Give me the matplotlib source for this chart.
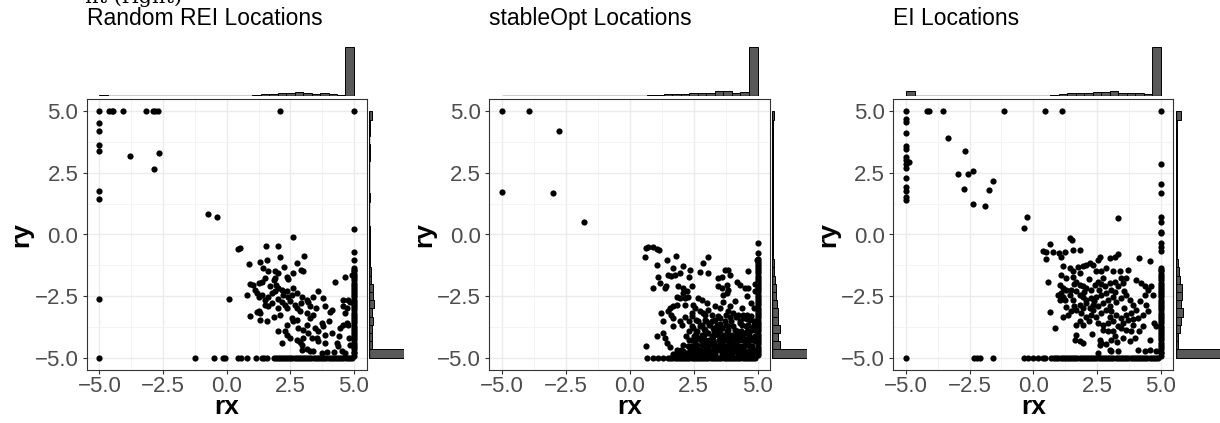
import numpy as np
import matplotlib
matplotlib.use("Agg")
import matplotlib.pyplot as plt

plt.rcParams['font.family'] = ['Liberation Sans', 'DejaVu Sans']

titles = ["Random REI Locations", "stableOpt Locations", "EI Locations"]
tick_vals = [-5, -2.5, 0, 2.5, 5]
tick_labels = ["\u22125.0", "\u22122.5", "0.0", "2.5", "5.0"]

# ---- Random REI: scattered points (rx, ry) ----
rei_pts = [
    (-5, 5), (-5, 4.53), (-5, 4.19), (-5, 3.62), (-5, 3.38), (-5, 1.75), (-5, 1.44), (-5, -2.63), (-5, -5),
    (-4.64, 5), (-4.5, 5), (-4.45, 5), (-4.09, 5), (-3.17, 5), (-2.91, 5), (-2.8, 5), (-2.71, 5), (2.1, 5), (5, 5),
    (-3.81, 3.18), (-2.65, 3.29), (-2.84, 2.65), (-0.74, 0.82), (-0.37, 0.7),
    (-1.26, -5), (-0.48, -5), (-0.16, -5), (-0.06, -5), (0.46, -5), (0.55, -5), (0.8, -5), (1.15, -5),
    (1.39, -5), (1.47, -5), (1.58, -5), (0.09, -2.61),
    (5, 0.22), (2.62, -0.11), (0.46, -0.59), (0.53, -0.53), (1.56, -0.46), (2.03, -0.45), (2.10, -0.90),
    (3.04, -0.86), (5, -0.70), (5, -1.03), (0.86, -1.21), (1.31, -1.13), (1.57, -1.03), (1.44, -1.37),
    (1.64, -1.50), (2.27, -1.33), (1.90, -1.50), (2.03, -1.57), (2.75, -1.17), (2.92, -1.44), (3.01, -1.50),
    (2.62, -1.57), (2.36, -1.71), (2.42, -1.80), (1.90, -1.75), (1.84, -1.84), (1.51, -1.77), (1.38, -1.91),
    (1.25, -1.98), (0.92, -2.02), (1.05, -2.04), (1.12, -2.25), (0.79, -2.45), (1.18, -2.38), (1.25, -2.52),
    (1.38, -2.45), (1.51, -2.65), (1.64, -2.52), (1.77, -2.38), (1.90, -2.31), (2.03, -2.18), (2.16, -2.25),
    (2.23, -2.45), (2.36, -2.31), (2.42, -2.52), (2.62, -2.18), (2.75, -2.38), (2.95, -2.52), (3.14, -2.65),
    (2.03, -2.61), (2.16, -2.72), (2.29, -2.85), (2.36, -2.99), (1.77, -2.79), (1.64, -2.92), (1.51, -2.85),
    (1.25, -3.12), (1.31, -3.19), (1.18, -3.15), (0.92, -3.29), (1.31, -3.46), (1.57, -3.53), (1.84, -3.33),
    (2.10, -3.26), (2.69, -2.85), (2.75, -2.99), (2.88, -3.12), (3.21, -2.72), (3.27, -2.92), (3.40, -2.52),
    (3.14, -3.19), (3.27, -3.39), (3.40, -3.26), (3.80, -2.58), (3.86, -2.92), (4.06, -3.15), (4.12, -3.06),
    (4.25, -1.91), (4.58, -2.92), (4.65, -3.19), (4.58, -2.65), (2.36, -3.66), (2.29, -3.93), (2.03, -3.93),
    (2.56, -3.39), (2.62, -3.53), (2.75, -3.46), (2.82, -3.80), (3.01, -3.87), (3.14, -3.66), (3.47, -3.80),
    (3.60, -3.93), (3.73, -3.60), (3.80, -3.73), (3.86, -4.07), (4.12, -4.00), (4.45, -3.80), (4.58, -3.66),
    (4.71, -3.60), (2.36, -4.07), (2.49, -4.20), (2.75, -4.27), (2.88, -4.37), (2.95, -4.47), (2.16, -4.41),
    (3.21, -4.00), (3.34, -4.20), (3.53, -4.20), (3.60, -4.34), (3.86, -4.41), (4.32, -4.41), (4.38, -4.54),
    (2.95, -4.68), (3.14, -4.64), (3.27, -4.72), (3.40, -4.74), (3.73, -4.81), (3.93, -4.77), (4.52, -4.72),
    (4.65, -4.81), (4.84, -4.47), (4.80, -4.20), (4.78, -3.66), (4.71, -2.99), (4.84, -2.72), (4.78, -2.65),
    (4.65, -1.71), (4.91, -1.64), (1.7, -2.1), (2.5, -2.7), (2.0, -3.0), (2.9, -2.8), (3.5, -3.0),
    (3.6, -2.3), (4.0, -3.5), (4.4, -4.1), (3.0, -4.2), (4.2, -4.75), (2.55, -2.45), (1.95, -2.05),
]
# dense column at rx = 5 and dense row at ry = -5
rei_edge_y = [-1.35, -1.43, -1.5, -1.6, -1.68, -1.77, -1.85, -1.95, -2.03, -2.12, -2.2, -2.3, -2.38, -2.47,
              -2.55, -2.65, -2.73, -2.82, -2.9, -3.0, -3.08, -3.17, -3.25, -3.35, -3.43, -3.52, -3.6, -3.7,
              -3.78, -3.87, -3.95, -4.05, -4.13, -4.22, -4.3, -4.4, -4.48, -4.57, -4.65, -4.75, -4.83, -4.92]
rei_floor_x = [1.85, 1.93, 2.0, 2.08, 2.17, 2.25, 2.33, 2.42, 2.5, 2.58, 2.67, 2.75, 2.83, 2.92, 3.0, 3.08,
               3.17, 3.25, 3.33, 3.42, 3.5, 3.58, 3.67, 3.75, 3.83, 3.92, 4.0, 4.08, 4.17, 4.25, 4.33, 4.42,
               4.5, 4.58, 4.67, 4.75, 4.83, 4.92]
rei_rx_counts = [5, 1, 1, 1, 1, 2, 1, 1, 1, 2, 1, 1, 1, 1, 1, 1, 1, 1, 4, 7, 7, 9, 11, 12, 9, 8, 9, 8, 5, 148]
rei_ry_counts = [148, 7, 7, 9, 12, 8, 14, 12, 10, 6, 4, 3, 2, 2, 1, 1, 0, 0, 0, 1, 0, 0, 0, 0, 1, 1, 0, 1, 1, 7]

# ---- stableOpt ----
so_pts = [
    (-5, 5), (-3.95, 5), (-2.79, 4.19), (-5, 1.71), (-3.0, 1.69), (-1.78, 0.52), (0.62, -4.54),
    (0.66, -5), (0.92, -5), (1.12, -5), (1.31, -5), (5, -0.36), (5, -0.76), (4.97, -1.03),
    (0.59, -0.90), (0.65, -0.56), (0.72, -0.49), (0.92, -0.49), (1.05, -0.59), (1.15, -0.63), (1.44, -1.03),
    (1.81, -0.86), (1.05, -1.23), (1.70, -1.37), (1.50, -1.64), (1.63, -1.67), (1.76, -1.64), (1.96, -1.57),
    (2.07, -1.26), (2.35, -1.46), (2.33, -1.71), (2.75, -1.53), (3.07, -1.57), (2.85, -1.17), (3.07, -0.92),
    (1.11, -1.71), (0.92, -2.18), (1.18, -1.98), (1.37, -2.18), (1.41, -2.11), (1.90, -2.11), (2.09, -2.18),
    (2.42, -2.11), (3.46, -1.75), (3.59, -1.71), (3.73, -1.44), (3.86, -1.44), (3.92, -1.64), (3.46, -2.11),
    (3.59, -2.18), (3.79, -2.04), (3.86, -2.25), (3.79, -2.38), (3.66, -2.45), (4.18, -1.91), (4.31, -2.04),
    (4.51, -2.18), (4.64, -2.18), (4.64, -1.50), (1.83, -2.52), (1.96, -2.56), (2.16, -2.56), (2.29, -2.52),
    (2.22, -2.31), (2.09, -2.38), (2.68, -2.58), (2.81, -2.65), (3.01, -2.79), (1.83, -2.85), (1.70, -2.92),
    (1.57, -2.99), (1.50, -3.12), (1.24, -3.19), (1.31, -3.53), (1.63, -3.26), (1.70, -3.39), (2.16, -2.85),
    (2.48, -2.85), (2.55, -2.99), (2.42, -3.19), (2.16, -3.33), (1.96, -3.53), (2.03, -3.66), (1.70, -3.73),
    (2.75, -3.12), (2.88, -3.19), (3.07, -3.06), (3.20, -3.26), (3.33, -2.92), (3.53, -2.99), (3.66, -2.72),
    (3.92, -2.92), (3.86, -3.12), (2.68, -3.53), (2.81, -3.66), (2.94, -3.46), (3.14, -3.60), (3.27, -3.80),
    (3.40, -3.66), (3.53, -3.39), (3.73, -3.53), (3.92, -3.33), (4.05, -3.19), (4.25, -3.26), (4.44, -3.39),
    (4.58, -3.26), (2.48, -3.80), (2.61, -4.00), (2.42, -4.27), (2.68, -4.20), (2.81, -4.07), (2.94, -4.27),
    (3.07, -4.00), (3.27, -4.14), (3.46, -3.93), (3.66, -4.07), (3.86, -3.87), (3.99, -4.07), (4.18, -3.93),
    (4.31, -4.14), (4.51, -4.00), (4.64, -3.66), (4.71, -3.93), (4.77, -4.20), (1.31, -4.00), (1.37, -4.20),
    (1.05, -4.14), (1.46, -4.41), (1.57, -4.58), (2.29, -4.54), (2.48, -4.54), (2.61, -4.64), (2.81, -4.47),
    (3.01, -4.61), (3.20, -4.47), (3.40, -4.68), (3.59, -4.54), (3.79, -4.68), (3.92, -4.47), (4.12, -4.64),
    (4.31, -4.54), (4.51, -4.72), (4.64, -4.47), (4.77, -4.61), (4.84, -4.74), (4.0, -4.3), (4.2, -4.7),
    (4.4, -4.3), (4.6, -4.8), (4.7, -4.3), (4.85, -3.5), (4.85, -3.0), (4.75, -2.8), (4.9, -2.3), (4.9, -2.0),
    (3.5, -4.3), (3.7, -4.3), (3.3, -4.4), (3.9, -4.8), (3.0, -4.85), (2.7, -4.85), (2.4, -4.8), (2.2, -4.8),
    (2.0, -4.7), (1.9, -4.85), (3.2, -3.5), (3.6, -3.8), (4.3, -3.6), (4.4, -3.0), (4.1, -2.7), (4.6, -2.5),
    (3.1, -4.3), (3.45, -4.55), (3.75, -4.15), (4.05, -4.5), (4.25, -4.0), (4.55, -4.25), (4.45, -4.6),
    (4.8, -3.8), (4.6, -3.45), (4.2, -3.3), (3.85, -3.7), (3.55, -3.65), (2.9, -3.85), (4.35, -4.8),
    # packed lower-right block
    (2.45, -3.32), (2.95, -3.28), (3.45, -3.3), (3.75, -3.25), (4.15, -3.33), (4.45, -3.27), (4.75, -3.3),
    (2.3, -3.5), (2.6, -3.48), (3.0, -3.52), (3.35, -3.47), (3.95, -3.5), (4.3, -3.53), (4.7, -3.48),
    (2.45, -3.7), (2.75, -3.72), (3.1, -3.68), (3.45, -3.71), (3.75, -3.69), (4.05, -3.72), (4.4, -3.68),
    (4.55, -3.71), (4.85, -3.69), (2.3, -3.9), (2.65, -3.92), (2.95, -3.88), (3.3, -3.91), (3.55, -3.89),
    (3.8, -3.92), (4.1, -3.88), (4.35, -3.9), (4.6, -3.91), (4.85, -3.88), (2.2, -4.1), (2.5, -4.12),
    (2.9, -4.08), (3.2, -4.11), (3.45, -4.09), (3.6, -4.12), (3.9, -4.08), (4.15, -4.1), (4.4, -4.12),
    (4.65, -4.08), (4.9, -4.11), (2.3, -4.3), (2.55, -4.32), (2.8, -4.28), (3.0, -4.31), (3.25, -4.29),
    (3.65, -4.32), (3.85, -4.28), (4.05, -4.31), (4.25, -4.29), (4.5, -4.32), (4.75, -4.28), (4.9, -4.31),
    (2.1, -4.5), (2.4, -4.52), (2.65, -4.48), (2.95, -4.51), (3.1, -4.49), (3.3, -4.52), (3.5, -4.48),
    (3.7, -4.51), (3.85, -4.49), (4.05, -4.52), (4.2, -4.48), (4.45, -4.51), (4.6, -4.49), (4.8, -4.52),
    (1.85, -4.7), (2.1, -4.72), (2.35, -4.68), (2.5, -4.71), (2.75, -4.69), (2.9, -4.72), (3.1, -4.68),
    (3.25, -4.71), (3.55, -4.69), (3.7, -4.72), (3.95, -4.68), (4.1, -4.71), (4.3, -4.69), (4.45, -4.72),
    (4.7, -4.68), (4.9, -4.71), (1.7, -4.85), (2.05, -4.87), (2.3, -4.84), (2.6, -4.86), (2.8, -4.85),
    (3.15, -4.87), (3.35, -4.84), (3.6, -4.86), (3.8, -4.85), (4.0, -4.87), (4.25, -4.84), (4.5, -4.86),
    (4.65, -4.85), (4.8, -4.87),
]
so_edge_y = [-1.0, -1.08, -1.17, -1.25, -1.33, -1.42, -1.5, -1.58, -1.67, -1.75, -1.83, -1.92, -2.0, -2.1,
             -2.18, -2.27, -2.35, -2.45, -2.53, -2.62, -2.7, -2.8, -2.88, -2.97, -3.05, -3.15, -3.23, -3.32,
             -3.4, -3.5, -3.58, -3.67, -3.75, -3.85, -3.93, -4.02, -4.1, -4.2, -4.28, -4.37, -4.45, -4.55,
             -4.63, -4.72, -4.8, -4.9]
so_floor_x = [1.5, 1.58, 1.67, 1.75, 1.83, 1.92, 2.0, 2.08, 2.17, 2.25, 2.33, 2.42, 2.5, 2.58, 2.67, 2.75,
              2.83, 2.92, 3.0, 3.08, 3.17, 3.25, 3.33, 3.42, 3.5, 3.58, 3.67, 3.75, 3.83, 3.92, 4.0, 4.08,
              4.17, 4.25, 4.33, 4.42, 4.5, 4.58, 4.67, 4.75, 4.83, 4.92]
so_rx_counts = [1, 0, 1, 0, 1, 1, 0, 1, 0, 0, 0, 1, 0, 0, 1, 1, 1, 3, 4, 6, 8, 7, 9, 9, 9, 15, 16, 11, 13, 148]
so_ry_counts = [148, 22, 16, 24, 18, 16, 13, 11, 10, 8, 6, 4, 3, 2, 2, 1, 1, 1, 1, 1, 1, 1, 1, 1, 1, 2, 1, 1, 1, 4]

# ---- EI ----
ei_pts = [
    (-5, 5), (-5, 4.70), (-5, 4.57), (-5, 4.12), (-5, 3.60), (-5, 3.46), (-5, 3.15), (-5, 3.02), (-5, 2.88),
    (-5, 2.71), (-5, 2.30), (-5, 1.94), (-5, 1.77), (-5, 1.54), (-5, 1.41), (-5, -5), (-4.88, 2.94),
    (-4.18, 5), (-4.08, 5), (-3.53, 5), (-1.14, 5), (0.45, 5), (1.13, 5), (5, 5),
    (-3.36, 3.92), (-2.67, 3.38), (-2.97, 2.44), (-2.55, 2.44), (-2.35, 2.56), (-2.71, 1.83), (-1.57, 2.19),
    (-1.73, 1.80), (-2.38, 1.22), (-1.90, 1.17), (-0.23, 0.71), (-0.36, 0.25), (3.32, 0.65),
    (5, 2.85), (5, 2.07), (5, 1.69), (5, 0.72), (5, 0.52), (5, 0.11), (5, 0.05), (5, -0.33), (5, -0.49), (5, -0.65),
    (-2.32, -5), (-2.22, -5), (-2.08, -5), (-1.57, -5), (-0.37, -5), (-0.2, -5), (-0.03, -5), (0.17, -5),
    (0.39, -5), (0.46, -5), (0.71, -5),
    (1.43, -0.13), (1.53, -0.22), (0.64, -0.40), (0.38, -0.67), (0.49, -0.72), (0.78, -0.70), (1.01, -0.76),
    (1.23, -0.70), (1.56, -0.63), (1.82, -0.63), (0.51, -0.99), (1.10, -0.90), (4.17, -0.97), (4.57, -1.07),
    (2.21, -1.17), (2.34, -1.23), (2.54, -1.03), (2.61, -0.90), (3.00, -0.97), (3.19, -0.90), (3.32, -0.80),
    (1.17, -1.26), (1.43, -1.37), (1.56, -1.48), (1.76, -1.30), (1.95, -1.28), (2.08, -1.23), (0.58, -1.94),
    (1.10, -1.64), (1.30, -1.75), (1.56, -1.71), (1.82, -1.57), (2.47, -1.50), (2.67, -1.48), (2.87, -1.37),
    (3.13, -1.50), (3.39, -1.48), (3.72, -1.44), (3.65, -1.77), (3.52, -1.98), (4.04, -1.84), (4.24, -1.98),
    (4.37, -2.11), (4.50, -2.25), (4.63, -2.11), (4.70, -2.45), (4.37, -2.45), (4.44, -2.85), (1.04, -2.04),
    (1.17, -2.18), (1.30, -2.25), (1.10, -2.38), (1.17, -2.52), (1.23, -2.65), (1.04, -2.65), (0.97, -2.45),
    (1.69, -1.91), (1.82, -2.04), (1.95, -2.11), (2.08, -2.18), (2.28, -2.25), (2.41, -2.04), (2.54, -1.91),
    (2.67, -2.02), (2.80, -2.11), (3.00, -1.98), (3.19, -1.91), (3.32, -2.11), (3.06, -2.25), (2.87, -2.38),
    (2.67, -2.45), (2.47, -2.52), (2.28, -2.58), (2.08, -2.65), (1.95, -2.52), (1.82, -2.45), (1.69, -2.31),
    (1.49, -2.25), (1.43, -2.45), (1.56, -2.65), (1.82, -2.85), (1.95, -2.99), (2.08, -2.79), (2.21, -2.99),
    (2.34, -2.85), (2.54, -2.92), (2.74, -2.79), (2.93, -2.65), (3.13, -2.52), (3.26, -2.72), (3.45, -2.58),
    (3.65, -2.45), (3.78, -2.65), (3.91, -2.85), (4.04, -3.06), (3.85, -3.19), (3.65, -3.26), (3.45, -3.39),
    (3.26, -3.26), (3.06, -3.12), (2.87, -3.06), (2.67, -3.19), (2.47, -3.33), (2.28, -3.26), (2.08, -3.33),
    (1.89, -3.19), (1.69, -3.06), (1.49, -3.12), (1.36, -3.26), (1.17, -3.33), (0.64, -3.15), (2.54, -3.60),
    (2.74, -3.66), (2.93, -3.60), (3.13, -3.53), (3.32, -3.73), (3.52, -3.60), (3.72, -3.46), (3.91, -3.66),
    (4.11, -3.39), (4.30, -3.26), (4.50, -3.12), (4.76, -3.60), (4.83, -3.73), (4.17, -3.93), (3.85, -3.93),
    (3.65, -3.87), (3.45, -3.80), (3.13, -3.93), (2.93, -3.93), (2.74, -3.87), (0.84, -3.80), (1.69, -3.66),
    (1.82, -3.53), (1.95, -3.66), (1.69, -4.07), (1.62, -4.27), (1.82, -4.34), (1.95, -4.41), (2.61, -4.27),
    (2.67, -4.41), (2.61, -4.47), (3.19, -4.14), (3.06, -4.27), (3.52, -4.20), (3.78, -4.34), (3.00, -4.68),
    (3.06, -4.74), (3.32, -4.74), (2.54, -4.81), (4.11, -4.68), (4.37, -4.74), (4.57, -4.68), (4.83, -4.74),
    (1.6, -2.0), (2.2, -1.8), (2.75, -1.75), (3.45, -1.75), (2.0, -2.35), (2.6, -2.25), (3.2, -2.35),
    (3.55, -2.3), (1.6, -2.9), (2.4, -2.7), (3.0, -2.9), (3.55, -3.0), (4.2, -2.7), (1.3, -2.95),
    (2.2, -3.5), (2.35, -3.05), (3.0, -3.35), (3.9, -3.45), (4.3, -3.7), (4.0, -4.2), (3.3, -4.35),
    (2.3, -4.05), (2.85, -4.45), (4.6, -4.3),
]
ei_edge_y = [-1.35, -1.43, -1.5, -1.6, -1.68, -1.77, -1.85, -1.95, -2.03, -2.12, -2.2, -2.3, -2.38, -2.47,
             -2.55, -2.65, -2.73, -2.82, -2.9, -3.0, -3.08, -3.17, -3.25, -3.35, -3.43, -3.52, -3.6, -3.7,
             -3.78, -3.87, -3.95, -4.05, -4.13, -4.22, -4.3, -4.4, -4.48, -4.57, -4.65, -4.75, -4.83, -4.92]
ei_floor_x = [0.82, 0.9, 0.98, 1.07, 1.15, 1.23, 1.32, 1.4, 1.48, 1.57, 1.65, 1.73, 1.82, 1.9, 1.98, 2.07,
              2.15, 2.23, 2.32, 2.4, 2.48, 2.57, 2.65, 2.73, 2.82, 2.9, 2.98, 3.07, 3.15, 3.23, 3.32, 3.4,
              3.48, 3.57, 3.65, 3.73, 3.82, 3.9, 3.98, 4.07, 4.15, 4.23, 4.32, 4.4, 4.48, 4.57, 4.65, 4.73,
              4.82, 4.9]
ei_rx_counts = [17, 1, 2, 1, 2, 1, 2, 1, 2, 2, 1, 1, 1, 2, 2, 2, 2, 4, 6, 9, 11, 9, 13, 14, 16, 11, 9, 9, 7, 148]
ei_ry_counts = [148, 5, 6, 11, 14, 19, 13, 18, 16, 11, 7, 4, 3, 2, 1, 2, 1, 1, 1, 1, 1, 1, 1, 1, 1, 1, 1, 1, 1, 13]

bin_edges = np.linspace(-5, 5, 31)
bin_mid = (bin_edges[:-1] + bin_edges[1:]) / 2

W, H = 1220, 423
fig = plt.figure(figsize=(W / 100, H / 100), dpi=100)


def rect(x0, y0, x1, y1):
    # pixel box (top-left origin) -> figure fraction
    return [x0 / W, 1 - y1 / H, (x1 - x0) / W, (y1 - y0) / H]


panels = [
    # main left, main right, right-hist baseline, right-hist clip
    (86.7, 366.7, 369.3, 404, titles[0], rei_pts, rei_edge_y, rei_floor_x, rei_rx_counts, rei_ry_counts),
    (489.3, 770.3, 772.3, 807, titles[1], so_pts, so_edge_y, so_floor_x, so_rx_counts, so_ry_counts),
    (893.3, 1173.3, 1176.3, 1220, titles[2], ei_pts, ei_edge_y, ei_floor_x, ei_rx_counts, ei_ry_counts),
]

TOP, BOT = 99, 370
HIST_H = 52.5
for left, right, rbase, rend, title, pts, edge_y, floor_x, xc, yc in panels:
    pts = np.array(pts)
    xs = np.concatenate([pts[:, 0], np.full(len(edge_y), 5.0), np.array(floor_x)])
    ys = np.concatenate([pts[:, 1], np.array(edge_y), np.full(len(floor_x), -5.0)])

    ax = fig.add_axes(rect(left, TOP, right, BOT))
    ax.scatter(xs, ys, s=20, c='black', linewidths=0, zorder=3)
    ax.set_xlim(-5.5, 5.5)
    ax.set_ylim(-5.5, 5.5)
    ax.set_xticks(tick_vals)
    ax.set_yticks(tick_vals)
    ax.set_xticklabels(tick_labels)
    ax.set_yticklabels(tick_labels)
    ax.set_xticks([-3.75, -1.25, 1.25, 3.75], minor=True)
    ax.set_yticks([-3.75, -1.25, 1.25, 3.75], minor=True)
    ax.grid(which='major', color='#EBEBEB', lw=1.0, zorder=0)
    ax.grid(which='minor', color='#F2F2F2', lw=0.6, zorder=0)
    ax.set_axisbelow(True)
    ax.tick_params(which='major', length=3, width=0.8, color='#333333', labelcolor='#4D4D4D', labelsize=16)
    ax.tick_params(axis='x', pad=1.5)
    ax.tick_params(axis='y', pad=3)
    ax.tick_params(which='minor', length=0)
    for sp in ax.spines.values():
        sp.set_color('#333333')
        sp.set_linewidth(0.8)
    ax.set_xlabel('rx', fontsize=19, fontweight='bold')
    ax.set_ylabel('ry', fontsize=19, fontweight='bold')
    ax.xaxis.set_label_coords(0.5, -0.137)
    ax.xaxis.label.set_va('center')
    ax.yaxis.set_label_coords(-0.232, 0.5)
    ax.yaxis.label.set_va('center')

    fig.text(left / W, 1 - 25 / H, title, fontsize=16.5, ha='left', va='baseline')

    # top marginal histogram; empty bins leave their outline on the baseline
    axt = fig.add_axes(rect(left, TOP - 2.5 - HIST_H, right, TOP - 2.5))
    axt.bar(bin_mid, xc, width=1 / 3, color='#595959', edgecolor='black', linewidth=0.7)
    axt.hlines(0, -5, 5, color='black', lw=1.0)
    axt.set_xlim(-5.5, 5.5)
    axt.set_ylim(0, max(xc) * 1.055)
    axt.axis('off')

    # right marginal histogram (cut off by the next image)
    axr = fig.add_axes(rect(rbase, TOP, rend, BOT))
    axr.barh(bin_mid, yc, height=1 / 3, color='#595959', edgecolor='black', linewidth=0.7)
    axr.vlines(0, -5, 5, color='black', lw=1.0)
    axr.set_ylim(-5.5, 5.5)
    axr.set_xlim(0, max(yc) * 1.055 * (rend - rbase) / HIST_H)
    axr.axis('off')

# clipped line of the surrounding document text
fig.text(85 / W, 1 - 3 / H, "nt (right)", family='DejaVu Serif', fontsize=15, va='baseline')

fig.savefig('out.png', dpi=100)
